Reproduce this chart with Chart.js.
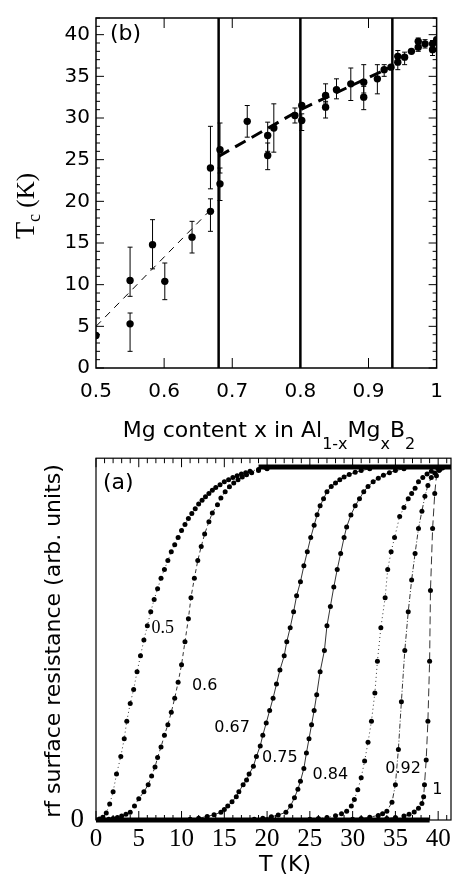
<!DOCTYPE html>
<html>
<head>
<meta charset="utf-8">
<script src="https://cdn.jsdelivr.net/npm/chart.js@4.4.1/dist/chart.umd.min.js"></script>
<style>
  html, body { margin: 0; padding: 0; background: #fff; }
  #wrap { position: relative; width: 455px; height: 888px; }
  canvas { position: absolute; left: 0; }
</style>
</head>
<body>
<div id="wrap">
  <canvas id="tcChart" width="455" height="460" style="top:0"></canvas>
  <canvas id="rsChart" width="455" height="458" style="top:430px"></canvas>
</div>
<script>
// ---------- panel (b): Tc vs Mg content ----------
const mgX    = [0.500, 0.550, 0.550, 0.583, 0.601, 0.641, 0.668, 0.668, 0.682, 0.682, 0.722, 0.752, 0.752, 0.761, 0.792, 0.802, 0.802, 0.837, 0.837, 0.853, 0.874, 0.893, 0.893, 0.913, 0.923, 0.933, 0.943, 0.943, 0.953, 0.963, 0.973, 0.973, 0.983, 0.994, 0.994, 1.000];
const tcVal  = [3.9, 5.3, 10.5, 14.8, 10.4, 15.7, 18.8, 24.0, 26.2, 22.1, 29.6, 27.9, 25.5, 28.8, 30.3, 31.5, 29.7, 32.7, 31.3, 33.4, 34.1, 34.3, 32.5, 34.7, 35.8, 36.1, 37.4, 36.7, 37.3, 38.0, 38.5, 39.2, 38.9, 38.9, 38.2, 39.4];
const tcLow  = [null, 2.0, 8.6, 11.9, 8.2, 13.8, 16.4, 21.5, 23.4, 20.1, 27.7, 26.0, 23.8, 25.9, 29.4, null, 28.5, 31.8, 30.0, 32.3, 32.1, 33.0, 31.0, 32.9, 35.0, null, 36.8, 35.8, 36.4, null, 38.0, 38.6, 38.4, 38.4, 37.5, null];
const tcHigh = [null, 6.6, 14.5, 17.8, 12.6, 17.6, 20.3, 29.0, 29.4, 24.0, 31.5, 29.5, 27.0, 31.7, 31.2, null, 30.5, 34.1, 32.0, 34.7, 36.0, 36.4, 33.8, 36.4, 36.4, null, 38.1, 37.4, 37.9, null, 39.0, 39.6, 39.4, 39.3, 38.9, null];

const fitLowX  = [0.5, 0.672];
const fitLowY  = [5.0, 19.3];
const fitHighX = [0.68, 0.80, 0.935];
const fitHighY = [25.4, 31.0, 36.2];
const phaseBounds = [0.68, 0.80, 0.935];

// ---------- panel (a): rf surface resistance vs T ----------
const curveNames = ["0.5", "0.6", "0.67", "0.75", "0.84", "0.92", "1"];

const t50 = [0.4, 0.8, 1.2, 1.6, 2.0, 2.4, 2.9, 3.3, 3.6, 4.0, 4.4, 4.8, 5.2, 5.6, 6.0, 6.4, 6.8, 7.2, 7.6, 8.0, 8.4, 8.8, 9.2, 9.6, 10.0, 10.4, 10.8, 11.2, 11.6, 12.0, 12.4, 12.8, 13.2, 13.6, 14.0, 14.5, 15.0, 15.5, 16.0, 16.5, 17.0, 17.5, 18.0, 19.0];
const r50 = [0.003, 0.008, 0.02, 0.045, 0.08, 0.13, 0.18, 0.23, 0.28, 0.33, 0.37, 0.42, 0.465, 0.51, 0.55, 0.59, 0.625, 0.655, 0.685, 0.71, 0.735, 0.76, 0.78, 0.80, 0.82, 0.837, 0.854, 0.868, 0.882, 0.895, 0.906, 0.916, 0.925, 0.934, 0.942, 0.95, 0.958, 0.964, 0.97, 0.975, 0.98, 0.984, 0.988, 0.993];

const t60 = [1.5, 2.0, 2.5, 3.0, 3.5, 4.0, 4.5, 5.0, 5.6, 6.1, 6.5, 6.9, 7.2, 7.6, 8.0, 8.4, 8.8, 9.2, 9.6, 10.0, 10.4, 10.8, 11.1, 11.5, 11.9, 12.3, 12.7, 13.2, 13.6, 14.2, 14.6, 15.1, 15.6, 16.1, 16.6, 17.1, 17.6, 18.2, 19.0, 20.0];
const r60 = [0.002, 0.004, 0.007, 0.011, 0.016, 0.022, 0.04, 0.06, 0.08, 0.10, 0.125, 0.15, 0.177, 0.207, 0.24, 0.27, 0.305, 0.345, 0.39, 0.44, 0.505, 0.57, 0.63, 0.685, 0.735, 0.775, 0.81, 0.845, 0.87, 0.893, 0.912, 0.93, 0.944, 0.955, 0.964, 0.972, 0.978, 0.984, 0.99, 0.995];

const t67 = [11.0, 12.0, 13.0, 13.8, 14.6, 15.0, 15.4, 15.9, 16.4, 16.7, 17.2, 17.6, 17.9, 18.4, 18.75, 19.2, 19.5, 19.9, 20.3, 20.7, 21.1, 21.5, 22.0, 22.3, 22.7, 23.1, 23.45, 23.9, 24.3, 24.7, 25.1, 25.5, 25.85, 26.2, 26.6, 27.0, 27.5, 28.0, 28.5, 29.0, 29.6, 30.3, 31.0, 32.0];
const r67 = [0.002, 0.005, 0.01, 0.015, 0.022, 0.03, 0.04, 0.052, 0.066, 0.08, 0.10, 0.113, 0.13, 0.152, 0.18, 0.21, 0.24, 0.275, 0.31, 0.345, 0.385, 0.425, 0.465, 0.505, 0.545, 0.59, 0.635, 0.675, 0.72, 0.76, 0.80, 0.835, 0.865, 0.89, 0.91, 0.93, 0.945, 0.955, 0.964, 0.972, 0.979, 0.985, 0.99, 0.995];

const t75 = [18.5, 19.5, 20.5, 21.3, 22.2, 22.75, 23.2, 23.6, 23.9, 24.3, 24.6, 24.9, 25.2, 25.5, 25.8, 26.2, 26.7, 27.0, 27.4, 27.8, 28.2, 28.6, 29.0, 29.3, 29.8, 30.3, 30.8, 31.3, 31.8, 32.4, 33.0, 33.6, 34.3, 35.0, 36.0];
const r75 = [0.002, 0.005, 0.009, 0.014, 0.022, 0.04, 0.063, 0.087, 0.11, 0.146, 0.19, 0.23, 0.27, 0.31, 0.355, 0.42, 0.48, 0.55, 0.605, 0.66, 0.71, 0.755, 0.80, 0.83, 0.864, 0.89, 0.91, 0.93, 0.945, 0.958, 0.968, 0.977, 0.984, 0.99, 0.995];

const t84 = [25.0, 26.0, 27.0, 28.0, 28.7, 29.3, 29.85, 30.2, 30.6, 31.0, 31.4, 31.8, 32.2, 32.6, 32.9, 33.3, 33.8, 34.1, 34.5, 34.9, 35.5, 36.0, 36.5, 36.9, 37.3, 37.7, 38.2, 38.7, 39.2, 40.0];
const r84 = [0.002, 0.004, 0.007, 0.012, 0.018, 0.025, 0.04, 0.058, 0.086, 0.12, 0.167, 0.22, 0.28, 0.36, 0.45, 0.545, 0.63, 0.71, 0.76, 0.80, 0.86, 0.885, 0.91, 0.925, 0.94, 0.958, 0.97, 0.98, 0.988, 0.995];

const t92 = [30.0, 31.0, 32.0, 33.0, 33.5, 34.0, 34.6, 35.0, 35.35, 35.7, 36.1, 36.5, 36.9, 37.3, 37.7, 38.1, 38.45, 38.8, 39.2, 39.6, 40.2];
const r92 = [0.002, 0.004, 0.008, 0.013, 0.018, 0.025, 0.05, 0.10, 0.20, 0.335, 0.48, 0.59, 0.68, 0.755, 0.826, 0.875, 0.917, 0.948, 0.97, 0.983, 0.993];

const t100 = [33.0, 34.0, 35.0, 36.0, 36.6, 37.2, 37.7, 38.1, 38.3, 38.4, 38.6, 38.8, 39.0, 39.1, 39.35, 39.6, 39.8, 40.1, 40.5];
const r100 = [0.002, 0.004, 0.007, 0.011, 0.016, 0.023, 0.033, 0.047, 0.066, 0.10, 0.17, 0.28, 0.45, 0.65, 0.826, 0.925, 0.975, 0.99, 0.997];

// flat normal-state and superconducting parts where the dots merge
const baseT = [0, 39];
const baseR = [0, 0];
const plateauT = [19, 41.5];
const plateauR = [1, 1];

// curve label anchors (T, R)
const labelT = [7.8, 12.7, 15.9, 21.5, 27.4, 35.9, 39.9];
const labelR = [0.544, 0.38, 0.26, 0.175, 0.127, 0.144, 0.085];

/* -------------------- helpers -------------------- */

Chart.defaults.font.family = "DejaVu Sans";
Chart.defaults.color = "#000";

function toPoints(xs, ys) {
  return xs.map((v, i) => ({ x: v, y: ys[i] }));
}

// draw a run of text pieces (for subscripts); returns total width
function drawRuns(ctx, runs, x, y, measureOnly) {
  let cx = x;
  runs.forEach(r => {
    ctx.font = r.font;
    if (!measureOnly) ctx.fillText(r.text, cx, y + (r.dy || 0));
    cx += ctx.measureText(r.text).width;
  });
  return cx - x;
}

function drawCentered(ctx, runs, cx, y) {
  const w = drawRuns(ctx, runs, 0, 0, true);
  drawRuns(ctx, runs, cx - w / 2, y, false);
}

function tickMarks(ctx, x, y, a) {
  return {
    xBottom(values, lenFn) {
      values.forEach(v => {
        const p = x.getPixelForValue(v);
        ctx.moveTo(p, a.bottom); ctx.lineTo(p, a.bottom - lenFn(v));
      });
    },
    xTop(values, lenFn) {
      values.forEach(v => {
        const p = x.getPixelForValue(v);
        ctx.moveTo(p, a.top); ctx.lineTo(p, a.top + lenFn(v));
      });
    },
    yLeft(values, lenFn) {
      values.forEach(v => {
        const p = y.getPixelForValue(v);
        ctx.moveTo(a.left, p); ctx.lineTo(a.left + lenFn(v), p);
      });
    },
    yRight(values, lenFn) {
      values.forEach(v => {
        const p = y.getPixelForValue(v);
        ctx.moveTo(a.right, p); ctx.lineTo(a.right - lenFn(v), p);
      });
    }
  };
}

/* -------------------- Panel (b) -------------------- */

const tcExtras = {
  id: "tcExtras",
  afterDatasetsDraw(chart) {
    const { ctx, chartArea: a, scales: { x, y } } = chart;
    ctx.save();
    ctx.strokeStyle = "#000";
    ctx.fillStyle = "#000";

    // error bars
    ctx.lineWidth = 1;
    ctx.beginPath();
    mgX.forEach((m, i) => {
      if (tcLow[i] === null) return;
      const px = x.getPixelForValue(m);
      const y1 = y.getPixelForValue(tcLow[i]);
      const y2 = y.getPixelForValue(tcHigh[i]);
      ctx.moveTo(px, y1); ctx.lineTo(px, y2);
      ctx.moveTo(px - 2.5, y1); ctx.lineTo(px + 2.5, y1);
      ctx.moveTo(px - 2.5, y2); ctx.lineTo(px + 2.5, y2);
    });
    ctx.stroke();

    // frame and inward ticks
    ctx.lineWidth = 1.5;
    ctx.strokeRect(a.left, a.top, a.right - a.left, a.bottom - a.top);
    ctx.lineWidth = 1;
    ctx.beginPath();
    const t = tickMarks(ctx, x, y, a);
    const yVals = [];
    for (let v = 0; v <= 42; v++) yVals.push(v);
    const yLen = v => (v % 5 === 0 ? 8 : 4);
    t.yLeft(yVals, yLen);
    t.yRight(yVals, yLen);
    t.xBottom([0.6, 0.7, 0.9], () => 10);
    t.xTop([0.6, 0.7, 0.9], () => 10);
    ctx.stroke();

    // panel tag
    ctx.font = "22px 'DejaVu Sans'";
    ctx.textBaseline = "alphabetic";
    ctx.textAlign = "left";
    ctx.fillText("(b)", 110, 40);

    // x title with subscripts
    const big = "22px 'DejaVu Sans'";
    const small = "16px 'DejaVu Sans'";
    drawCentered(ctx, [
      { text: "Mg content x in Al", font: big },
      { text: "1-x", font: small, dy: 12 },
      { text: "Mg", font: big },
      { text: "x", font: small, dy: 12 },
      { text: "B", font: big },
      { text: "2", font: small, dy: 12 }
    ], 269, 437);

    // y title T_c (K), rotated
    ctx.translate(34, 206);
    ctx.rotate(-Math.PI / 2);
    drawCentered(ctx, [
      { text: "T", font: "28px 'Liberation Serif'" },
      { text: "c", font: "18px 'Liberation Serif'", dy: 6 },
      { text: " (K)", font: "25px 'Liberation Serif'" }
    ], 0, 0);
    ctx.restore();
  }
};

function buildTcChart() {
  const ctx = document.getElementById("tcChart").getContext("2d");

  const phaseSets = phaseBounds.map(b => ({
    data: [{ x: b, y: 0 }, { x: b, y: 42 }],
    showLine: true,
    borderColor: "#000",
    borderWidth: 2.5,
    pointRadius: 0
  }));

  new Chart(ctx, {
    type: "scatter",
    data: {
      datasets: [
        ...phaseSets,
        {
          label: "fit x<0.68",
          data: toPoints(fitLowX, fitLowY),
          showLine: true,
          borderColor: "#000",
          borderWidth: 1,
          borderDash: [7, 6],
          pointRadius: 0
        },
        {
          label: "fit x>0.68",
          data: toPoints(fitHighX, fitHighY),
          showLine: true,
          borderColor: "#000",
          borderWidth: 3,
          borderDash: [12, 7],
          pointRadius: 0
        },
        {
          label: "Tc",
          data: toPoints(mgX, tcVal),
          pointRadius: 3.7,
          pointBackgroundColor: "#000",
          pointBorderWidth: 0
        }
      ]
    },
    options: {
      responsive: false,
      animation: false,
      layout: { padding: { top: 6, right: 2, left: 0, bottom: 0 } },
      plugins: { legend: { display: false }, tooltip: { enabled: false } },
      scales: {
        x: {
          type: "linear",
          min: 0.5,
          max: 1.0,
          grid: { display: false, drawTicks: false },
          border: { display: false },
          ticks: {
            stepSize: 0.1,
            includeBounds: false,
            padding: 12,
            font: { size: 20 },
            color: "#000",
            callback: v => (Math.abs(v - 1) < 1e-9 ? "1" : v.toFixed(1))
          },
          afterFit: s => { s.height = 92; }
        },
        y: {
          min: 0,
          max: 42,
          grid: { display: false, drawTicks: false },
          border: { display: false },
          ticks: {
            stepSize: 5,
            includeBounds: false,
            padding: 6,
            font: { size: 20 },
            color: "#000"
          },
          afterFit: s => { s.width = 96; }
        }
      }
    },
    plugins: [tcExtras]
  });
}

/* -------------------- Panel (a) -------------------- */

const rsExtras = {
  id: "rsExtras",
  afterDatasetsDraw(chart) {
    const { ctx, chartArea: a, scales: { x, y } } = chart;
    ctx.save();
    ctx.strokeStyle = "#000";
    ctx.fillStyle = "#000";

    ctx.lineWidth = 1.2;
    ctx.strokeRect(a.left, a.top, a.right - a.left, a.bottom - a.top);
    ctx.lineWidth = 1;
    ctx.beginPath();
    const t = tickMarks(ctx, x, y, a);
    const tVals = [];
    for (let v = 0; v <= 41; v++) tVals.push(v);
    const tLen = v => (v % 5 === 0 ? 9 : 5);
    t.xBottom(tVals, tLen);
    t.xTop(tVals, tLen);
    ctx.stroke();

    // curve labels
    ctx.textAlign = "center";
    ctx.textBaseline = "middle";
    curveNames.forEach((name, i) => {
      ctx.font = i === 0 ? "18px 'Liberation Serif'" : "16px 'DejaVu Sans'";
      ctx.fillText(name, x.getPixelForValue(labelT[i]), y.getPixelForValue(labelR[i]));
    });

    // panel tag
    ctx.textAlign = "left";
    ctx.textBaseline = "alphabetic";
    ctx.font = "22px 'DejaVu Sans'";
    ctx.fillText("(a)", 103, 59);

    // titles
    ctx.textAlign = "center";
    ctx.fillText("T (K)", 285, 441);
    ctx.translate(60, 211);
    ctx.rotate(-Math.PI / 2);
    ctx.fillText("rf surface resistance (arb. units)", 0, 0);
    ctx.restore();
  }
};

function buildRsChart() {
  const ctx = document.getElementById("rsChart").getContext("2d");

  const curves = [
    [t50, r50, [1, 3]],
    [t60, r60, [4, 3]],
    [t67, r67, []],
    [t75, r75, []],
    [t84, r84, [1, 3]],
    [t92, r92, [5, 2, 1, 2]],
    [t100, r100, [8, 4]]
  ];

  const curveSets = curves.map(([ts, rs, dash], i) => ({
    label: curveNames[i],
    data: toPoints(ts, rs),
    showLine: true,
    clip: false,
    borderColor: "#000",
    borderWidth: 0.8,
    borderDash: dash,
    pointRadius: 2.5,
    pointBackgroundColor: "#000",
    pointBorderWidth: 0
  }));

  new Chart(ctx, {
    type: "scatter",
    data: {
      datasets: [
        {
          label: "baseline",
          data: toPoints(baseT, baseR),
          showLine: true,
          clip: false,
          borderColor: "#000",
          borderWidth: 5,
          pointRadius: 0
        },
        {
          label: "plateau",
          data: toPoints(plateauT, plateauR),
          showLine: true,
          borderColor: "#000",
          borderWidth: 5,
          pointRadius: 0
        },
        ...curveSets
      ]
    },
    options: {
      responsive: false,
      animation: false,
      layout: { padding: { top: 26, right: 2, left: 0, bottom: 0 } },
      plugins: { legend: { display: false }, tooltip: { enabled: false } },
      scales: {
        x: {
          type: "linear",
          min: 0,
          max: 41.5,
          grid: { display: false, drawTicks: false },
          border: { display: false },
          ticks: {
            stepSize: 5,
            includeBounds: false,
            padding: 4,
            font: { family: "Liberation Serif", size: 25 },
            color: "#000"
          },
          afterFit: s => { s.height = 68; }
        },
        y: {
          min: 0,
          max: 1.025,
          grid: { display: false, drawTicks: false },
          border: { display: false },
          ticks: {
            stepSize: 0.5,
            includeBounds: false,
            padding: 12,
            font: { family: "Liberation Serif", size: 27 },
            color: "#000",
            callback: v => (v === 0 ? "0" : null)
          },
          afterFit: s => { s.width = 96; }
        }
      }
    },
    plugins: [rsExtras]
  });
}

window.addEventListener("DOMContentLoaded", () => {
  buildTcChart();
  buildRsChart();
});
</script>
</body>
</html>
